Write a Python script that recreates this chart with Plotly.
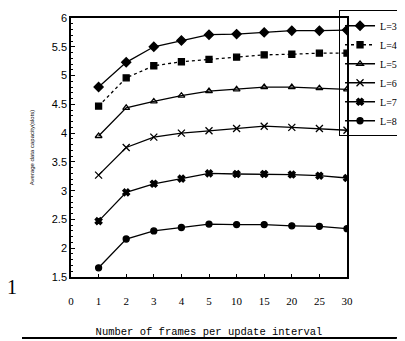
import plotly.graph_objects as go

frames = ["1", "2", "3", "4", "5", "10", "15", "20", "25", "30"]
tick_labels = ["0", "1", "2", "3", "4", "5", "10", "15", "20", "25", "30"]
x_idx = list(range(1, len(frames) + 1))

L3 = [4.80, 5.23, 5.50, 5.61, 5.71, 5.72, 5.75, 5.78, 5.78, 5.79]
L4 = [4.47, 4.96, 5.17, 5.24, 5.28, 5.32, 5.36, 5.37, 5.39, 5.39]
L5 = [3.95, 4.44, 4.55, 4.65, 4.73, 4.76, 4.80, 4.80, 4.78, 4.76]
L6 = [3.27, 3.75, 3.93, 4.00, 4.04, 4.08, 4.12, 4.10, 4.08, 4.05]
L7 = [2.47, 2.97, 3.12, 3.21, 3.30, 3.29, 3.29, 3.28, 3.26, 3.22]
L8 = [1.66, 2.16, 2.30, 2.36, 2.42, 2.41, 2.41, 2.39, 2.38, 2.34]

series = [
    ("L=3", L3, "diamond", 7, "solid"),
    ("L=4", L4, "square", 6, "dot"),
    ("L=5", L5, "triangle-up-open", 6, "solid"),
    ("L=6", L6, "x-thin-open", 7, "solid"),
    ("L=7", L7, "x", 6, "solid"),
    ("L=8", L8, "circle", 6, "solid"),
]

fig = go.Figure()
for name, vals, sym, size, dash in series:
    fig.add_trace(go.Scatter(
        x=x_idx, y=vals, name=name, mode="lines+markers",
        line=dict(color="black", width=1.3, dash=dash),
        marker=dict(symbol=sym, size=size, color="black",
                    line=dict(color="black", width=1.3)),
    ))

# page body has an 8px margin, so the figure is sized/offset to compensate
fig.update_layout(
    width=397, height=333,
    margin=dict(l=63, r=58, t=10, b=64, autoexpand=False),
    paper_bgcolor="white", plot_bgcolor="white",
    font=dict(family="Liberation Sans", color="black"),
    showlegend=True,
    legend=dict(
        x=1.203, y=1.03, xanchor="right", yanchor="top",
        bordercolor="black", borderwidth=1, bgcolor="rgba(0,0,0,0)",
        font=dict(family="Liberation Sans Narrow", size=10, color="black"),
        itemwidth=30, tracegroupgap=0,
    ),
    xaxis=dict(
        range=[0, 10], tickmode="array",
        tickvals=list(range(len(tick_labels))), ticktext=tick_labels,
        ticks="inside", ticklen=3, tickwidth=1, tickcolor="black",
        ticklabelstandoff=13,
        showline=True, linecolor="black", linewidth=1.5, mirror=True,
        showgrid=False, zeroline=False,
        tickfont=dict(family="Liberation Serif", size=11, color="black"),
        title=dict(text="Number of frames per update interval",
                   font=dict(family="Liberation Mono", size=10.5, color="black"),
                   standoff=22),
    ),
    yaxis=dict(
        range=[1.5, 6], dtick=0.5, tick0=1.5,
        ticks="inside", ticklen=4, tickwidth=1, tickcolor="black",
        minor=dict(ticks="inside", dtick=0.1, ticklen=2, tickcolor="black"),
        showline=True, linecolor="black", linewidth=1.5, mirror=True,
        showgrid=False, zeroline=False,
        tickfont=dict(family="Liberation Sans", size=11, color="black"),
        title=dict(text="Average data capacity(slots)",
                   font=dict(family="Liberation Sans", size=6, color="black"),
                   standoff=17),
    ),
)

fig.add_annotation(text="1", xref="paper", yref="paper", x=-0.214, y=-0.04,
                   xanchor="center", yanchor="middle", showarrow=False,
                   font=dict(family="Liberation Serif", size=20, color="black"))

# bottom rounded border of the scanned figure frame
fig.add_shape(type="path", xref="paper", yref="paper",
              path="M -0.1775 -0.2355 L 1.175 -0.2355 Q 1.2 -0.2355 1.2 -0.197",
              line=dict(color="black", width=2))
fig.add_shape(type="line", xref="paper", yref="paper",
              x0=1.2, x1=1.2, y0=-0.197, y1=0.336,
              line=dict(color="#bbbbbb", width=1))

fig.write_html("out.html")
